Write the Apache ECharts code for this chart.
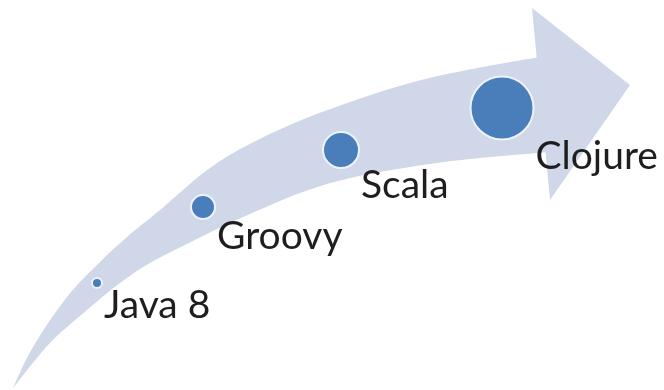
<!DOCTYPE html>
<html lang="en">
<head>
<meta charset="UTF-8">
<title>JVM languages</title>
<script src="https://cdn.jsdelivr.net/npm/echarts@6/dist/echarts.min.js"></script>
<style>
  html, body { margin: 0; background: #fff; }
  #chart { width: 664px; height: 390px; }
</style>
</head>
<body>
<div id="chart"></div>
<script>
// the four stops along the arrow
var languages = ['Java 8', 'Groovy', 'Scala', 'Clojure'];
var dotX = [97, 203, 341, 502];
var dotY = [283, 207, 150, 108];
var dotSize = [10, 24, 36, 63];

// outline of the curved arrow (same axis units as the dots)
var arrowTop = [[13, 388], [33, 347], [67, 297], [100, 262], [127, 237], [160, 210],
  [217, 163], [283, 128], [350, 102], [417, 81], [483, 67], [540, 57]];
var arrowBottom = [[13, 388], [50, 343], [87, 310], [120, 283], [150, 263], [183, 246],
  [215, 230], [250, 214], [300, 193], [350, 178], [410, 167], [470, 159], [550, 152]];
var arrowHead = [[532, 8], [630, 85], [550, 200]];

// catmull-rom -> bezier, returns the "C ..." part of a path
function curveThrough(p) {
  var s = '';
  for (var i = 0; i < p.length - 1; i++) {
    var p0 = p[Math.max(i - 1, 0)], p1 = p[i], p2 = p[i + 1], p3 = p[Math.min(i + 2, p.length - 1)];
    var c1 = [p1[0] + (p2[0] - p0[0]) / 6, p1[1] + (p2[1] - p0[1]) / 6];
    var c2 = [p2[0] - (p3[0] - p1[0]) / 6, p2[1] - (p3[1] - p1[1]) / 6];
    s += ' C' + c1[0] + ' ' + c1[1] + ' ' + c2[0] + ' ' + c2[1] + ' ' + p2[0] + ' ' + p2[1];
  }
  return s;
}

var chart = echarts.init(document.getElementById('chart'));

var dots = languages.map(function (name, i) {
  return {
    name: name,
    value: [dotX[i], dotY[i], dotSize[i]],
    label: { position: [dotSize[i] + 3, dotSize[i] + 18] }
  };
});

chart.setOption({
  animation: false,
  grid: { left: 0, right: 0, top: 0, bottom: 0 },
  xAxis: { type: 'value', min: 0, max: 664, show: false },
  yAxis: { type: 'value', min: 0, max: 390, inverse: true, show: false },
  series: [
    {
      type: 'custom',
      silent: true,
      z: 1,
      data: [[0, 0]],
      renderItem: function (params, api) {
        var top = arrowTop.map(function (d) { return api.coord(d); });
        var bottom = arrowBottom.map(function (d) { return api.coord(d); }).reverse();
        var d = 'M' + top[0][0] + ' ' + top[0][1] + curveThrough(top) +
          ' L' + bottom[0][0] + ' ' + bottom[0][1] + curveThrough(bottom) + ' Z';
        return {
          type: 'group',
          children: [
            { type: 'path', shape: { pathData: d }, style: { fill: '#cfd7e8' } },
            {
              type: 'polygon',
              shape: { points: arrowHead.map(function (p) { return api.coord(p); }) },
              style: { fill: '#cfd7e8' }
            }
          ]
        };
      }
    },
    {
      type: 'scatter',
      z: 3,
      data: dots,
      symbolSize: function (v) { return v[2]; },
      itemStyle: { color: '#4a7ebb', borderColor: '#eef3fb', borderWidth: 2, opacity: 1 },
      label: {
        show: true,
        formatter: '{b}',
        fontFamily: 'Lato',
        fontSize: 39,
        color: '#1e1e1e',
        align: 'left',
        verticalAlign: 'middle'
      },
      emphasis: { disabled: true }
    }
  ]
});
</script>
</body>
</html>
